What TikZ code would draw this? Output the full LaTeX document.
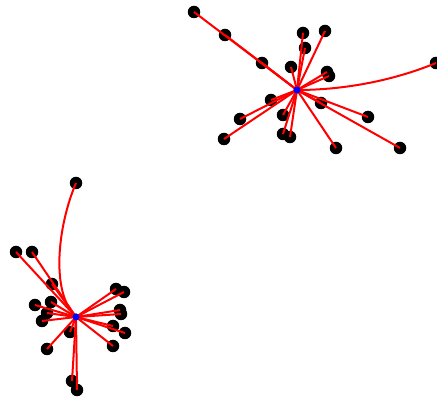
\documentclass[tikz,border=0pt]{standalone}
\begin{document}
\begin{tikzpicture}[x=1pt,y=-1pt,
  dot/.style={circle,fill=black,inner sep=0pt,minimum size=12.5pt},
  hub/.style={circle,fill=blue,inner sep=0pt,minimum size=7pt},
  edge/.style={draw=red,line width=2pt}]
\useasboundingbox (0,0) rectangle (437,398);
% upper cluster nodes
\foreach \n/\x/\y in {u1/194/12, u2/225/35, u3/262/63, u4/291/67, u5/303/33, u6/325/31,
  u7/305/48, u8/329/76, u9/327/72, u10/436/63, u11/271/100, u12/240/119, u13/224/139,
  u14/283/115, u15/283/134, u16/290/137, u17/321/103, u18/368/117, u19/336/148, u20/400/148}
  \node[dot] (\n) at (\x,\y) {};
% lower cluster nodes
\foreach \n/\x/\y in {l1/76/183, l2/16/252, l3/32/252, l4/52/284, l5/35/305, l6/51/302,
  l7/47/313, l8/42/321, l9/70/332, l10/47/349, l11/72/381, l12/77/390, l13/116/289,
  l14/124/292, l15/120/310, l16/121/314, l17/113/326, l18/125/333, l19/113/346}
  \node[dot] (\n) at (\x,\y) {};
\node[hub] (c1) at (297,90) {};
\node[hub] (c2) at (76,317) {};
% upper edges
\foreach \n in {u1,u2,u3,u4,u5,u6,u7,u8,u9,u11,u12,u13,u14,u15,u16,u17,u18,u19,u20}
  \draw[edge] (c1.center) -- (\n.center);
\draw[edge] (c1.center) .. controls (340,90) and (390,82) .. (u10.center);
% lower edges
\foreach \n in {l2,l3,l4,l5,l6,l7,l8,l9,l10,l11,l12,l13,l14,l15,l16,l17,l18,l19}
  \draw[edge] (c2.center) -- (\n.center);
\draw[edge] (c2.center) .. controls (50,292) and (58,225) .. (l1.center);
\node[hub] at (c1) {};
\node[hub] at (c2) {};
\end{tikzpicture}
\end{document}
